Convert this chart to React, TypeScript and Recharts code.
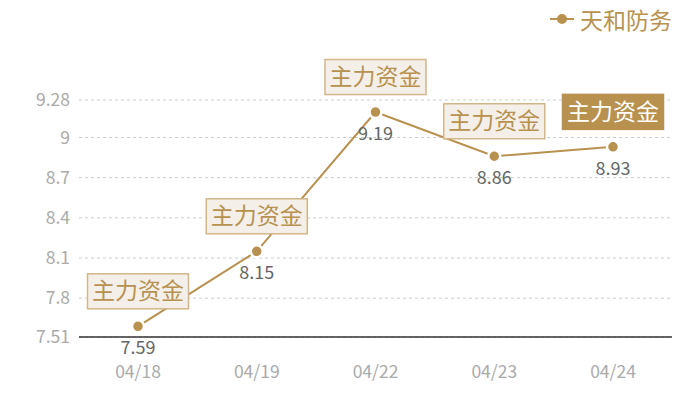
import React from 'react';
import { LineChart, Line, XAxis, YAxis, CartesianGrid, LabelList } from 'recharts';

const categories = ['04/18', '04/19', '04/22', '04/23', '04/24'];
const values = [7.59, 8.15, 9.19, 8.86, 8.93];
const yTicks = [7.51, 7.8, 8.1, 8.4, 8.7, 9, 9.28];
const seriesName = '天和防务';
const markLabel = '主力资金';
const highlightIndex = 4;

const data = categories.map((c, i) => ({ date: c, value: values[i] }));

const GOLD = '#b8914f';
const FONT = '"Noto Sans CJK SC", "Noto Sans", sans-serif';

const PointLabel = (props: any) => {
  const { x, y, value, index } = props;
  const w = 101;
  const h = 35;
  const cy = y - 35;
  const hl = index === highlightIndex;
  return (
    <g>
      <text x={x} y={y + 28} textAnchor="middle" fill="#666" fontSize={18} fontFamily={FONT}>
        {value}
      </text>
      <rect
        x={x - w / 2}
        y={cy - h / 2}
        width={w}
        height={h}
        fill={hl ? GOLD : '#f4f0e9'}
        stroke={hl ? GOLD : '#d2b688'}
        strokeWidth={1.5}
      />
      <text
        x={x}
        y={cy + 8}
        textAnchor="middle"
        fill={hl ? '#fff' : GOLD}
        fontSize={23}
        fontFamily={FONT}
      >
        {markLabel}
      </text>
    </g>
  );
};

export default function App() {
  return (
    <div style={{ position: 'absolute', left: 0, top: 0, width: 700, height: 400, background: '#fff' }}>
      <LineChart width={700} height={400} data={data} margin={{ top: 100, right: 28, bottom: 33, left: 0 }}>
        <CartesianGrid vertical={false} stroke="#ccc" strokeDasharray="3 3" />
        <XAxis
          dataKey="date"
          height={30}
          padding={{ left: 59, right: 59 }}
          axisLine={{ stroke: '#333', strokeWidth: 1.5 }}
          tickLine={false}
          tickSize={0}
          tickMargin={29}
          tick={{ fill: '#aaa', fontSize: 17.5, fontFamily: FONT }}
        />
        <YAxis
          width={79}
          domain={[7.51, 9.28]}
          ticks={yTicks}
          interval={0}
          axisLine={false}
          tickLine={false}
          tickSize={0}
          tickMargin={9}
          tick={{ fill: '#aaa', fontSize: 17.5, fontFamily: FONT }}
        />
        <Line
          type="linear"
          dataKey="value"
          name={seriesName}
          stroke={GOLD}
          strokeWidth={2}
          dot={{ r: 6, fill: GOLD, stroke: '#fff', strokeWidth: 2.5 }}
          activeDot={false}
          isAnimationActive={false}
        >
          <LabelList dataKey="value" content={PointLabel} />
        </Line>
      </LineChart>
      <div
        style={{
          position: 'absolute',
          top: 6,
          right: 28,
          display: 'flex',
          alignItems: 'center',
          fontFamily: FONT,
        }}
      >
        <svg width={26} height={14} style={{ marginRight: 5 }}>
          <line x1={1} y1={7} x2={25} y2={7} stroke={GOLD} strokeWidth={2} />
          <circle cx={13} cy={7} r={5} fill={GOLD} />
        </svg>
        <span style={{ color: GOLD, fontSize: 23, lineHeight: '26px' }}>{seriesName}</span>
      </div>
    </div>
  );
}
